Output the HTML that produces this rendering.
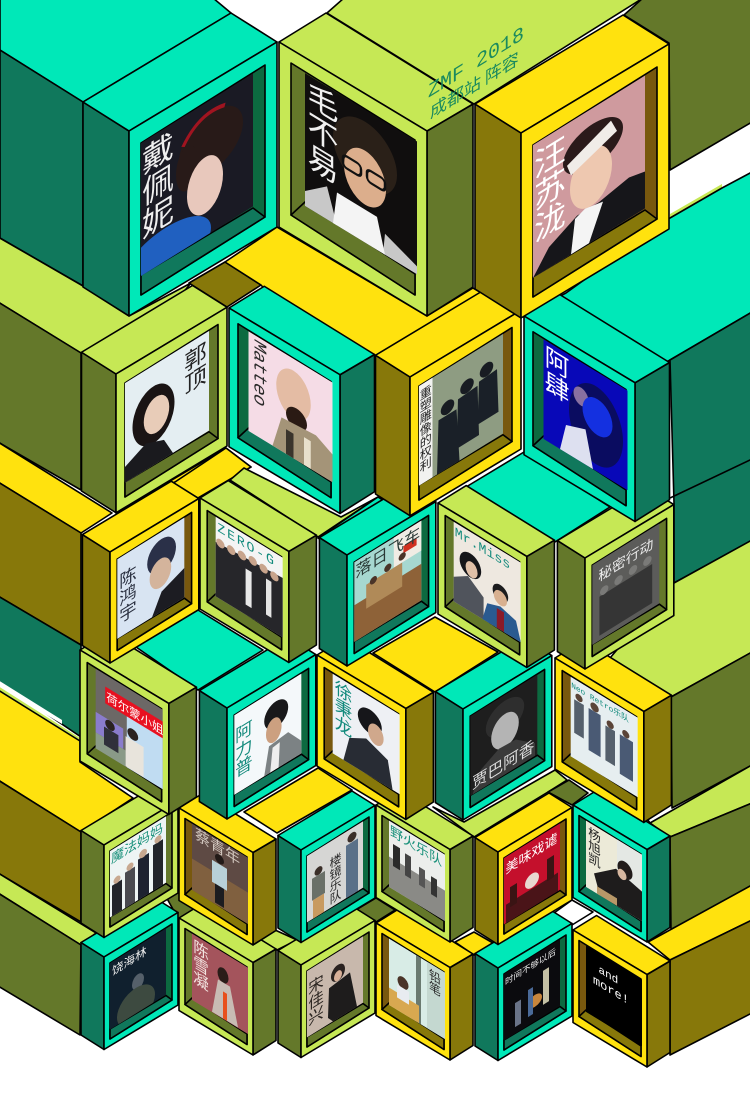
<!DOCTYPE html>
<html lang="zh"><head><meta charset="utf-8"><title>ZMF 2018 成都站 阵容</title>
<style>
html,body{margin:0;padding:0;background:#fff}
svg{display:block}
.teal{--top:#00e8b8;--wall:#10785c;--r:#0c6a40;--b:#10785c}
.lime{--top:#c6e855;--wall:#64782a;--r:#64782a;--b:#64782a}
.yel{--top:#ffe20e;--wall:#87780a;--r:#78580e;--b:#87780a}
.s{stroke:#000;stroke-width:1.6;stroke-linejoin:round;vector-effect:non-scaling-stroke}
.box polygon{stroke:#000;stroke-width:1.6;stroke-linejoin:round;vector-effect:non-scaling-stroke}
text{font-family:"WenQuanYi Zen Hei","Noto Sans CJK SC",sans-serif}
.m{font-family:"Liberation Mono","Noto Sans CJK SC",monospace}
.v{writing-mode:vertical-rl}
</style></head>
<body>
<svg width="750" height="1104" viewBox="0 0 750 1104" xmlns="http://www.w3.org/2000/svg">
<defs>
<clipPath id="im"><rect width="112" height="133"/></clipPath>
<g id="boxA" class="box">
<polygon points="-46,-29 0,0 0,185 -46,156" style="fill:var(--wall)"/>
<polygon points="0,0 148,-89 102,-118 -46,-29" style="fill:var(--top)"/>
<polygon points="0,0 148,-89 148,96 0,185" style="fill:var(--top)"/>
<polygon points="12,12 136,-66 136,86 12,164" style="fill:var(--r)"/>
<polygon points="12,144 124,77 136,86 12,164" style="fill:var(--b)"/>
</g>
<g id="boxB" class="box">
<polygon points="148,89 194,62 194,245 148,274" style="fill:var(--wall)"/>
<polygon points="0,0 148,89 194,62 47,-29" style="fill:var(--top)"/>
<polygon points="0,0 148,89 148,274 0,185" style="fill:var(--top)"/>
<polygon points="12,21 136,98 136,253 12,173" style="fill:var(--r)"/>
<polygon points="26,160 136,232 136,253 12,173" style="fill:var(--b)"/>
</g>
</defs>
<rect width="750" height="1104" fill="#fff"/>

<g>
<polygon class="s" fill="#00e8b8" points="0,-2 213,-2 231,13 83,102 0,50"/>
<polygon class="s" fill="#10785c" points="0,50 83,102 83,286 0,238"/>
<polygon class="s" fill="#c6e855" points="344,-2 643,-2 474,104 327,13"/>
<polygon class="s" fill="#64782a" points="643,-2 752,-2 752,122 670,170 669,43 624,15"/>
<polygon fill="#c6e855" points="670,214 722,184 722,188 670,219"/>
<polygon class="s" fill="#00e8b8" points="522,316 566,293 670,218 722,188 752,172 752,312 670,360 635,380"/>
<polygon class="s" fill="#10785c" points="670,360 752,312 752,540 674,583 674,503"/>
<polyline class="s" fill="none" points="670,498 752,459"/>
<polygon class="s" fill="#c6e855" points="610,658 674,583 752,540 752,652 671,697"/>
<polygon class="s" fill="#64782a" points="671,697 752,652 752,765 672,808"/>
<polygon class="s" fill="#c6e855" points="650,823 752,765 752,803 670,837"/>
<polygon class="s" fill="#64782a" points="670,837 752,803 752,885 671,930"/>
<polygon class="s" fill="#ffe20e" points="648,942 752,885 752,920 670,960"/>
<polygon class="s" fill="#87780a" points="670,960 752,920 752,1013 670,1055"/>

<polygon class="s" fill="#c6e855" points="-2,237 83,286 129,316 191,283 116,374 81,353 -2,302"/>
<polygon class="s" fill="#64782a" points="-2,302 81,353 81,490 -2,442"/>
<polygon class="s" fill="#ffe20e" points="-2,442 112,513 81,533 -2,482"/>
<polygon class="s" fill="#87780a" points="-2,482 81,533 81,645 -2,596"/>
<polygon class="s" fill="#10785c" points="-2,596 81,645 81,737 -2,681"/>
<polygon fill="#fff" points="-2,680 62,720 62,724 -2,686"/>
<polygon fill="#c6e855" points="-2,686 80,738 80,742 -2,690"/>
<polygon class="s" fill="#ffe20e" points="-2,690 80,741 80,762 133,798 81,832 -2,780"/>
<polygon class="s" fill="#87780a" points="-2,780 81,832 81,922 -2,873"/>
<polygon class="s" fill="#c6e855" points="-2,873 96,933 81,945 -2,893"/>
<polygon class="s" fill="#64782a" points="-2,893 81,945 80,1035 -2,986"/>

<polygon class="s" fill="#87780a" points="189,283 225,262 261,285 227,307"/>
<polygon class="s" fill="#ffe20e" points="225,262 277,227 427,316 473,288 521,316 410,377 375,355 341,377 261,285"/>
<polygon class="s" fill="#ffe20e" points="116,513 226,448 251,467 175,482"/>
<polygon class="s" fill="#ffe20e" points="172,484 226,448 251,467 198,498"/>
<polygon class="s" fill="#c6e855" points="230,480 244,468 341,517 378,497 318,537"/>
<polygon class="s" fill="#00e8b8" points="318,538 378,497 410,517 436,503 347,555"/>
<polygon class="s" fill="#00e8b8" points="466,487 524,452 610,507 555,542"/>
<polygon class="s" fill="#00e8b8" points="136,647 198,610 263,650 198,690"/>
<polygon class="s" fill="#ffe20e" points="373,653 435,617 498,652 435,692"/>
<polygon class="s" fill="#ffe20e" points="244,812 318,768 352,790 277,833"/>
<polygon class="s" fill="#c6e855" points="464,822 555,770 567,780 548,792 474,837 433,807"/>
<polygon class="s" fill="#64782a" points="548,792 569,780 588,793 572,805"/>
<polygon class="s" fill="#ffe20e" points="598,793 620,780 650,823 670,838 647,850"/>
<polygon class="s" fill="#64782a" points="165,895 180,885 197,907 179,920"/>
<polygon class="s" fill="#c6e855" points="258,938 275,930 297,940 277,950"/>
<polygon class="s" fill="#64782a" points="356,910 376,898 395,910 376,922"/>
<polygon class="s" fill="#ffe20e" points="455,942 474,932 493,943 474,955"/>
<polygon class="s" fill="#fff" points="554,913 572,900 593,912 572,925"/>
</g>

<!-- ROW 6 -->
<g class="teal" transform="translate(104,957) scale(.5)"><use href="#boxA"/>
<g transform="matrix(1,-.62,0,1,12,12)"><g clip-path="url(#im)"><rect width="112" height="133" fill="#10202e"/><ellipse cx="56" cy="72" rx="12" ry="15" fill="#55606a"/><ellipse cx="52" cy="118" rx="38" ry="36" fill="#3d4a40"/><text x="4" y="28" font-size="23" fill="#eee">饶海林</text></g></g></g>

<g class="lime" transform="translate(179,918) scale(.5)"><use href="#boxB"/>
<g transform="matrix(1,.61,0,1,26,31)"><g clip-path="url(#im)"><rect width="112" height="133" fill="#a4545c"/><ellipse cx="62" cy="46" rx="11" ry="15" fill="#2a1c18"/><polygon points="40,132 52,60 76,60 92,132" fill="#c8bcb4"/><rect x="62" y="78" width="8" height="54" fill="#e8501c"/><text x="18" y="6" font-size="31" fill="#f2e4e0" class="v">陈雪凝</text></g></g></g>

<g class="lime" transform="translate(301,965) scale(.5)"><use href="#boxA"/>
<g transform="matrix(1,-.62,0,1,12,12)"><g clip-path="url(#im)"><rect width="112" height="133" fill="#c8b8ac"/><ellipse cx="62" cy="42" rx="14" ry="16" fill="#2a2220"/><polygon points="42,120 44,62 86,56 100,133 52,133" fill="#1e1c1c"/><ellipse cx="62" cy="48" rx="8" ry="10" fill="#d8b098"/><text x="18" y="22" font-size="31" fill="#2a2420" class="v">宋佳兴</text></g></g></g>

<g class="yel" transform="translate(376,923) scale(.5)"><use href="#boxB"/>
<g transform="matrix(1,.61,0,1,26,31)"><g clip-path="url(#im)"><rect width="112" height="133" fill="#d8ece6"/><rect x="54" width="10" height="133" fill="#6a7a70"/><rect x="76" width="36" height="133" fill="#c4d8d0"/><rect y="98" width="60" height="35" fill="#d8a850"/><ellipse cx="28" cy="72" rx="11" ry="12" fill="#4a3428"/><rect x="16" y="82" width="24" height="26" fill="#e8ecf0"/><text x="92" y="8" font-size="24" fill="#2a2a2a" class="v">铅笔</text></g></g></g>

<g class="teal" transform="translate(498,968) scale(.5)"><use href="#boxA"/>
<g transform="matrix(1,-.62,0,1,12,12)"><g clip-path="url(#im)"><rect width="112" height="133" fill="#0b0b0e"/><ellipse cx="62" cy="92" rx="14" ry="12" fill="#c8863c"/><rect x="22" y="72" width="12" height="48" fill="#6a7488"/><rect x="78" y="42" width="12" height="68" fill="#c4c0a4"/><rect x="48" y="62" width="10" height="54" fill="#4a6a98"/><text x="2" y="24" font-size="17" fill="#eee">时间不够以后</text></g></g></g>

<g class="yel" transform="translate(573,930) scale(.5)"><use href="#boxB"/>
<g transform="matrix(1,.61,0,1,26,31)"><g clip-path="url(#im)"><rect width="112" height="133" fill="#000"/><text x="25" y="38" font-size="22" fill="#fff" class="m">and</text><text x="14" y="66" font-size="24" fill="#fff" class="m">more!</text></g></g></g>

<!-- ROW 5 -->
<g class="lime" transform="translate(104,845) scale(.5)"><use href="#boxA"/>
<g transform="matrix(1,-.62,0,1,12,12)"><g clip-path="url(#im)"><rect width="112" height="133" fill="#eef4f4"/><rect x="4" y="72" width="20" height="61" fill="#22242a"/><rect x="30" y="62" width="20" height="71" fill="#4a4a50"/><rect x="56" y="52" width="22" height="81" fill="#1e2230"/><rect x="86" y="42" width="20" height="91" fill="#22242a"/><circle cx="14" cy="66" r="7" fill="#c8a890"/><circle cx="40" cy="56" r="7" fill="#c8a890"/><circle cx="66" cy="46" r="8" fill="#c8a890"/><circle cx="96" cy="36" r="7" fill="#c8a890"/><text x="2" y="27" font-size="26" fill="#18907a">魔法妈妈</text></g></g></g>

<g class="yel" transform="translate(179,808) scale(.5)"><use href="#boxB"/>
<g transform="matrix(1,.61,0,1,26,31)"><g clip-path="url(#im)"><rect width="112" height="133" fill="#5e4a44"/><rect y="70" width="112" height="63" fill="#80603f"/><circle cx="55" cy="38" r="9" fill="#221a18"/><rect x="40" y="48" width="30" height="44" fill="#b8d0d8"/><rect x="46" y="92" width="18" height="38" fill="#1c1c20"/><text x="6" y="26" font-size="30" fill="#cfc4bc">蔡青年</text></g></g></g>

<g class="teal" transform="translate(301,850) scale(.5)"><use href="#boxA"/>
<g transform="matrix(1,-.62,0,1,12,12)"><g clip-path="url(#im)"><rect width="112" height="133" fill="#d6d6d4"/><rect x="10" y="52" width="26" height="44" fill="#6a7068"/><rect x="12" y="96" width="22" height="37" fill="#c89a60"/><circle cx="23" cy="44" r="8" fill="#3a2e28"/><rect x="78" y="28" width="24" height="105" fill="#5a7088"/><circle cx="90" cy="18" r="9" fill="#3a2e28"/><text x="57" y="32" font-size="24" fill="#2a2a2a" class="v">楼镜乐队</text></g></g></g>

<g class="lime" transform="translate(376,805) scale(.5)"><use href="#boxB"/>
<g transform="matrix(1,.61,0,1,26,31)"><g clip-path="url(#im)"><rect width="112" height="133" fill="#eceeec"/><rect y="72" width="112" height="61" fill="#8a8a86"/><rect x="8" y="42" width="14" height="44" fill="#2a2a2a"/><rect x="32" y="46" width="12" height="44" fill="#444"/><rect x="60" y="56" width="12" height="36" fill="#555"/><rect x="84" y="60" width="12" height="36" fill="#333"/><text x="2" y="27" font-size="26" fill="#18907a">野火乐队</text></g></g></g>

<g class="yel" transform="translate(498,852) scale(.5)"><use href="#boxA"/>
<g transform="matrix(1,-.62,0,1,12,12)"><g clip-path="url(#im)"><rect width="112" height="133" fill="#c4102c"/><rect x="4" y="96" width="104" height="37" fill="#4a1418"/><circle cx="56" cy="80" r="14" fill="#e8d8d0"/><rect x="12" y="66" width="14" height="40" fill="#3a1414"/><rect x="86" y="56" width="14" height="44" fill="#3a1414"/><text x="3" y="34" font-size="26" fill="#fff">美味戏谑</text></g></g></g>

<g class="teal" transform="translate(573,805) scale(.5)"><use href="#boxB"/>
<g transform="matrix(1,.61,0,1,26,31)"><g clip-path="url(#im)"><rect width="112" height="133" fill="#ecead8"/><rect x="62" width="50" height="133" fill="#e4e8e4"/><polygon points="16,96 60,60 112,74 112,133 28,133" fill="#1e1c1c"/><ellipse cx="78" cy="52" rx="15" ry="17" fill="#221c1a"/><ellipse cx="72" cy="64" rx="9" ry="10" fill="#d8b8a0"/><rect x="22" y="118" width="40" height="15" fill="#b89868"/><text x="17" y="6" font-size="25" fill="#222" class="v">杨旭凯</text></g></g></g>

<!-- ROW 4 -->
<g class="lime" transform="translate(80,650) scale(.6)"><use href="#boxB"/>
<g transform="matrix(1,.61,0,1,26,31)"><g clip-path="url(#im)"><rect width="112" height="133" fill="#6c6866"/><rect x="52" y="45" width="60" height="88" fill="#c0dcf2"/><rect y="72" width="46" height="34" fill="#8a7ccc"/><rect y="106" width="50" height="27" fill="#8a9a88"/><circle cx="62" cy="72" r="9" fill="#2a2220"/><rect x="50" y="82" width="30" height="50" fill="#e8e4dc"/><circle cx="24" cy="80" r="8" fill="#2a2220"/><rect x="14" y="88" width="24" height="30" fill="#30303a"/><rect x="16" y="20" width="96" height="28" fill="#e81020"/><text x="18" y="42" font-size="19" fill="#fff">荷尔蒙小姐</text></g></g></g>

<g class="teal" transform="translate(227,708) scale(.6)"><use href="#boxA"/>
<g transform="matrix(1,-.62,0,1,12,12)"><g clip-path="url(#im)"><rect width="112" height="133" fill="#f4f8fa"/><ellipse cx="70" cy="42" rx="20" ry="22" fill="#18181a"/><ellipse cx="66" cy="66" rx="13" ry="20" fill="#cca080"/><polygon points="50,133 58,88 90,84 112,112 112,133" fill="#7c8284"/><polygon points="60,133 64,94 76,92 74,133" fill="#eee"/><text x="16" y="22" font-size="29" fill="#128a7c" class="v">阿力普</text></g></g></g>

<g class="yel" transform="translate(317,655) scale(.6)"><use href="#boxB"/>
<g transform="matrix(1,.61,0,1,26,31)"><g clip-path="url(#im)"><rect width="112" height="133" fill="#eef0f4"/><ellipse cx="62" cy="42" rx="20" ry="20" fill="#16161a"/><ellipse cx="72" cy="58" rx="13" ry="17" fill="#d0a88c"/><polygon points="18,133 28,90 56,74 92,88 100,133" fill="#282c34"/><text x="18" y="4" font-size="29" fill="#128a7c" class="v">徐秉龙</text></g></g></g>

<g class="teal" transform="translate(463,709) scale(.6)"><use href="#boxA"/>
<g transform="matrix(1,-.62,0,1,12,12)"><g clip-path="url(#im)"><rect width="112" height="133" fill="#1e1e1e"/><ellipse cx="58" cy="38" rx="32" ry="28" fill="#2e2e2e"/><ellipse cx="58" cy="60" rx="23" ry="28" fill="#b4b4b4"/><polygon points="4,133 18,100 48,84 76,86 108,112 108,133" fill="#3a3a3a"/><text x="3" y="124" font-size="26" fill="#ddd">贾巴阿香</text></g></g></g>

<g class="yel" transform="translate(555,658) scale(.6)"><use href="#boxB"/>
<g transform="matrix(1,.61,0,1,26,31)"><g clip-path="url(#im)"><rect width="112" height="133" fill="#e6eef0"/><rect x="6" y="34" width="16" height="56" fill="#55606c"/><rect x="30" y="34" width="20" height="70" fill="#4a5a74"/><rect x="58" y="46" width="16" height="58" fill="#55606c"/><rect x="82" y="46" width="22" height="66" fill="#4a5a74"/><circle cx="14" cy="27" r="6" fill="#5a4438"/><circle cx="40" cy="27" r="7" fill="#5a4438"/><circle cx="66" cy="40" r="6" fill="#5a4438"/><circle cx="92" cy="40" r="6" fill="#5a4438"/><text x="1" y="17" font-size="13" fill="#128a7c" class="m">Neo Retro乐队</text></g></g></g>

<!-- ROW 3 -->
<g class="yel" transform="translate(110,552) scale(.6)"><use href="#boxA"/>
<g transform="matrix(1,-.62,0,1,12,12)"><g clip-path="url(#im)"><rect width="112" height="133" fill="#d8e4f2"/><ellipse cx="74" cy="40" rx="24" ry="28" fill="#2a3048"/><ellipse cx="72" cy="68" rx="18" ry="24" fill="#d4b49c"/><polygon points="58,133 74,100 112,84 112,133" fill="#1c1c22"/><text x="18" y="26" font-size="29" fill="#2a3040" class="v">陈鸿宇</text></g></g></g>

<g class="lime" transform="translate(200,498) scale(.6)"><use href="#boxB"/>
<g transform="matrix(1,.61,0,1,26,31)"><g clip-path="url(#im)"><rect width="112" height="133" fill="#f4f4f4"/><polygon points="0,42 112,34 112,133 0,133" fill="#26262a"/><rect x="50" y="56" width="10" height="60" fill="#e8e8e8"/><rect x="84" y="52" width="9" height="60" fill="#e4e4e4"/><circle cx="8" cy="40" r="7" fill="#c8a48c"/><circle cx="26" cy="40" r="7" fill="#c8a48c"/><circle cx="44" cy="38" r="7" fill="#c8a48c"/><circle cx="62" cy="36" r="7" fill="#c8a48c"/><circle cx="80" cy="38" r="7" fill="#c8a48c"/><circle cx="98" cy="40" r="7" fill="#c8a48c"/><text x="3" y="22" font-size="22" fill="#128a7c" class="m" letter-spacing="3">ZERO-G</text></g></g></g>

<g class="teal" transform="translate(347,555) scale(.6)"><use href="#boxA"/>
<g transform="matrix(1,-.62,0,1,12,12)"><g clip-path="url(#im)"><rect width="112" height="133" fill="#a6d8d0"/><rect x="66" width="46" height="50" fill="#f0ece4"/><rect x="82" y="24" width="22" height="12" fill="#d03020"/><rect y="72" width="112" height="61" fill="#8e6238"/><rect x="20" y="50" width="60" height="40" fill="#b08a58"/><circle cx="32" cy="50" r="6" fill="#4a3428"/><circle cx="56" cy="44" r="6" fill="#4a3428"/><circle cx="80" cy="40" r="6" fill="#4a3428"/><text x="2" y="28" font-size="27" fill="#2a3a36">落日飞车</text></g></g></g>

<g class="lime" transform="translate(438,503) scale(.6)"><use href="#boxB"/>
<g transform="matrix(1,.61,0,1,26,31)"><g clip-path="url(#im)"><rect width="112" height="133" fill="#eee8e0"/><ellipse cx="28" cy="56" rx="18" ry="20" fill="#16161a"/><ellipse cx="30" cy="62" rx="10" ry="13" fill="#e0c0a8"/><polygon points="0,133 0,92 24,76 50,96 50,133" fill="#50545c"/><ellipse cx="78" cy="72" rx="13" ry="14" fill="#1c1c1e"/><ellipse cx="78" cy="80" rx="11" ry="12" fill="#d8b090"/><polygon points="48,133 56,102 78,94 104,102 112,133" fill="#2a5a90"/><rect x="72" y="100" width="12" height="33" fill="#8a1a28"/><text x="2" y="22" font-size="22" fill="#128a7c" class="m">Mr.Miss</text></g></g></g>

<g class="lime" transform="translate(585,558) scale(.6)"><use href="#boxA"/>
<g transform="matrix(1,-.62,0,1,12,12)"><g clip-path="url(#im)"><rect width="112" height="133" fill="#5c5c5a"/><rect x="12" y="60" width="88" height="65" fill="#353535"/><circle cx="20" cy="54" r="7" fill="#7a7a78"/><circle cx="44" cy="52" r="7" fill="#7a7a78"/><circle cx="68" cy="50" r="7" fill="#7a7a78"/><circle cx="92" cy="50" r="7" fill="#7a7a78"/><text x="10" y="34" font-size="23" fill="#eee">秘密行动</text></g></g></g>

<!-- ROW 2 -->
<g class="lime" transform="translate(116,374) scale(.75)"><use href="#boxA"/>
<g transform="matrix(1,-.62,0,1,12,12)"><g clip-path="url(#im)"><rect width="112" height="133" fill="#e4eef2"/><ellipse cx="38" cy="66" rx="28" ry="38" fill="#1a1414"/><ellipse cx="42" cy="68" rx="17" ry="24" fill="#e8ccb8"/><polygon points="0,133 0,112 28,98 52,108 64,133" fill="#1a1a1e"/><text x="94" y="8" font-size="30" fill="#222" class="v">郭顶</text></g></g></g>

<g class="teal" transform="translate(229,308) scale(.75)"><use href="#boxB"/>
<g transform="matrix(1,.61,0,1,26,31)"><g clip-path="url(#im)"><rect width="112" height="133" fill="#f5dce6"/><ellipse cx="60" cy="48" rx="23" ry="32" fill="#e4bca4"/><ellipse cx="64" cy="78" rx="14" ry="14" fill="#2a1a14"/><polygon points="32,133 44,88 90,84 112,96 112,133" fill="#a49478"/><rect x="50" y="100" width="10" height="33" fill="#3a342c"/><rect x="74" y="96" width="9" height="37" fill="#e8e0cc"/><text x="14" y="4" font-size="24" fill="#2a2a2a" class="m v">Matteo</text></g></g></g>

<g class="yel" transform="translate(410,377) scale(.75)"><use href="#boxA"/>
<g transform="matrix(1,-.62,0,1,12,12)"><g clip-path="url(#im)"><rect width="112" height="133" fill="#8e9c82"/><rect width="18" height="133" fill="#f2f2f0"/><circle cx="38" cy="52" r="9" fill="#181c22"/><circle cx="64" cy="40" r="9" fill="#181c22"/><circle cx="90" cy="34" r="9" fill="#181c22"/><polygon points="24,133 26,62 50,62 54,133" fill="#1a2028"/><polygon points="50,115 52,50 78,48 80,115" fill="#1a2028"/><polygon points="78,100 80,44 104,42 106,100" fill="#1a2028"/><text x="9" y="6" font-size="16" fill="#222" class="v">重塑雕像的权利</text></g></g></g>

<g class="teal" transform="translate(524,316) scale(.75)"><use href="#boxB"/>
<g transform="matrix(1,.61,0,1,26,31)"><g clip-path="url(#im)"><rect width="112" height="133" fill="#0808b8"/><ellipse cx="70" cy="72" rx="36" ry="52" fill="#0a0c60"/><ellipse cx="50" cy="46" rx="10" ry="12" fill="#8870a0"/><ellipse cx="72" cy="60" rx="20" ry="24" fill="#1430e0"/><polygon points="22,133 30,96 56,86 66,133" fill="#dde0f0"/><text x="18" y="3" font-size="33" fill="#fff" class="v">阿肆</text></g></g></g>

<!-- ROW 1 -->
<g class="teal" transform="translate(129,131)"><use href="#boxA"/>
<g transform="matrix(1,-.62,0,1,12,12)"><g clip-path="url(#im)"><rect width="112" height="133" fill="#1a1a24"/><ellipse cx="70" cy="42" rx="32" ry="30" fill="#281a18"/><path d="M42 30 Q58 6 84 14" fill="none" stroke="#a01420" stroke-width="4"/><ellipse cx="46" cy="54" rx="11" ry="22" fill="#281a18"/><ellipse cx="64" cy="82" rx="18" ry="28" fill="#e8c8bc"/><ellipse cx="25" cy="128" rx="45" ry="28" fill="#2060c0"/><text x="17" y="4" font-size="32" fill="#f0f0f0" class="v">戴佩妮</text></g></g></g>

<g class="lime" transform="translate(279,42)"><use href="#boxB"/>
<g transform="matrix(1,.61,0,1,26,31)"><g clip-path="url(#im)"><rect width="112" height="133" fill="#100e0e"/><polygon points="0,133 0,118 22,100 32,133" fill="#c8c8c8"/><polygon points="78,133 80,112 112,125 112,133" fill="#c8c8c8"/><polygon points="28,133 32,100 72,100 80,133" fill="#f4f4f4"/><ellipse cx="60" cy="46" rx="32" ry="34" fill="#2a2018"/><ellipse cx="60" cy="68" rx="21" ry="27" fill="#dcae8c"/><rect x="38" y="58" width="18" height="12" rx="4" fill="none" stroke="#111" stroke-width="2.5"/><rect x="62" y="58" width="18" height="12" rx="4" fill="none" stroke="#111" stroke-width="2.5"/><text x="18" y="2" font-size="31" fill="#f0f0f0" class="v">毛不易</text></g></g></g>

<g class="yel" transform="translate(521,133)"><use href="#boxA"/>
<g transform="matrix(1,-.62,0,1,12,12)"><g clip-path="url(#im)"><rect width="112" height="133" fill="#cf9a9e"/><ellipse cx="60" cy="38" rx="30" ry="22" fill="#2a1a1a"/><ellipse cx="58" cy="68" rx="21" ry="29" fill="#eec8b0"/><polygon points="34,42 78,24 84,38 38,54" fill="#f0ece8"/><polygon points="0,133 16,112 44,98 66,98 96,92 112,96 112,133" fill="#16161a"/><polygon points="38,133 42,100 52,96 70,100 56,133" fill="#f4f4f4"/><text x="17" y="6" font-size="32" fill="#fff" class="v">汪苏泷</text></g></g></g>

<!-- TITLE -->
<g transform="matrix(1,-.62,0,1,428,98)">
<text x="0" y="0" font-size="20" fill="#1a8a5e" class="m">ZMF 2018</text>
<text x="2" y="22" font-size="17" fill="#1a8a5e">成都站 阵容</text>
</g>
</svg>
</body></html>
